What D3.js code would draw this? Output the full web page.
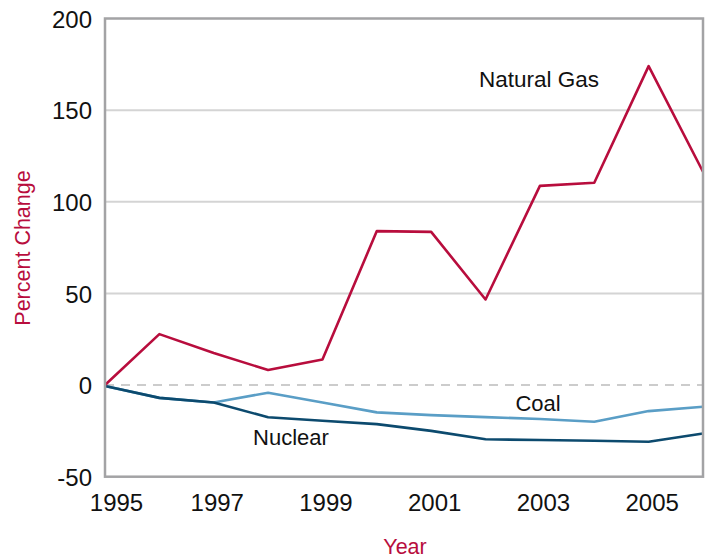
<!DOCTYPE html>
<html lang="en">
<head>
	<meta charset="UTF-8">
	<title>Percent Change</title>
	<script src="https://cdn.jsdelivr.net/npm/d3@7"></script>
	<style>
		body { margin: 0; background: #fff; }
		text { font-family: "Liberation Sans", Arial, sans-serif; }
	</style>
</head>
<body>
	<div id="container"></div>
	<script>
		var width = 710;
		var height = 559;

		// data
		var years = [1995, 1996, 1997, 1998, 1999, 2000, 2001, 2002, 2003, 2004, 2005, 2006];
		var naturalGas = [0, 27.8, 17.5, 8.2, 14, 84, 83.6, 46.7, 108.7, 110.4, 174, 116.4];
		var coal = [-0.5, -7, -9.5, -4.2, -9.5, -14.9, -16.4, -17.5, -18.5, -20, -14.2, -11.8];
		var nuclear = [-0.5, -7, -9.5, -17.6, -19.5, -21.3, -25, -29.6, -30, -30.4, -30.9, -26.4];
		var xTicks = [1995, 1997, 1999, 2001, 2003, 2005];
		var yTicks = [-50, 0, 50, 100, 150, 200];
		var gridValues = [50, 100, 150];

		var series = [
			{name: "Coal", values: coal, color: "#5a9ec6"},
			{name: "Nuclear", values: nuclear, color: "#0c4a6e"},
			{name: "Natural Gas", values: naturalGas, color: "#b80d3d"}
		];

		var svg = d3.select("#container").append("svg")
				.attr("width", width)
				.attr("height", height);

		var x = d3.scaleLinear()
				.domain([1995, 2006])
				.range([105, 703]);
		var y = d3.scaleLinear()
				.domain([-50, 200])
				.range([476.7, 18.5]);

		// grid lines
		svg.selectAll(".grid").data(gridValues)
			.enter().append("line")
				.attr("x1", x(1995))
				.attr("x2", x(2006))
				.attr("y1", d => y(d))
				.attr("y2", d => y(d))
				.attr("stroke", "#d4d4d4")
				.attr("stroke-width", 2);

		// dashed zero line
		svg.append("line")
				.attr("x1", x(1995))
				.attr("x2", x(2006))
				.attr("y1", y(0))
				.attr("y2", y(0))
				.attr("stroke", "#cccccc")
				.attr("stroke-width", 2)
				.attr("stroke-dasharray", "9,7");

		var line = d3.line()
				.x((d, i) => x(years[i]))
				.y(d => y(d));

		svg.selectAll(".series").data(series)
			.enter().append("path")
				.attr("d", d => line(d.values))
				.attr("fill", "none")
				.attr("stroke", d => d.color)
				.attr("stroke-width", 2.6)
				.attr("stroke-linejoin", "round");

		// frame
		svg.append("rect")
				.attr("x", x(1995))
				.attr("y", y(200))
				.attr("width", x(2006) - x(1995))
				.attr("height", y(-50) - y(200))
				.attr("fill", "none")
				.attr("stroke", "#a3a3a5")
				.attr("stroke-width", 2.5);

		// axes
		var xAxis = svg.append("g")
				.attr("transform", "translate(0," + y(-50) + ")")
				.call(d3.axisBottom(x).tickValues(xTicks).tickSize(0).tickFormat(d => String(d)));
		xAxis.select(".domain").remove();
		xAxis.selectAll("text")
				.attr("y", 34)
				.attr("dy", 0)
				.attr("dx", (d, i) => i == 0 ? 11 : 3)
				.attr("fill", "#111")
				.style("font-size", "24px")
				.style("font-family", "'Liberation Sans', Arial, sans-serif");

		var yAxis = svg.append("g")
				.attr("transform", "translate(92,0)")
				.call(d3.axisLeft(y).tickValues(yTicks).tickSize(0).tickPadding(0).tickFormat(d => String(d)));
		yAxis.select(".domain").remove();
		yAxis.selectAll("text")
				.attr("dy", "0.36em")
				.attr("fill", "#111")
				.style("font-size", "24px")
				.style("font-family", "'Liberation Sans', Arial, sans-serif");

		// series labels
		svg.append("text").text("Natural Gas")
				.attr("x", 539).attr("y", 87)
				.attr("text-anchor", "middle")
				.style("font-size", "22.5px")
				.attr("fill", "#111");
		svg.append("text").text("Coal")
				.attr("x", 538).attr("y", 411)
				.attr("text-anchor", "middle")
				.style("font-size", "22px")
				.attr("fill", "#111");
		svg.append("text").text("Nuclear")
				.attr("x", 291).attr("y", 445)
				.attr("text-anchor", "middle")
				.style("font-size", "22px")
				.attr("fill", "#111");

		// axis titles
		svg.append("text").text("Year")
				.attr("x", 405).attr("y", 554)
				.attr("text-anchor", "middle")
				.style("font-size", "21.5px")
				.attr("fill", "#b80d3d");
		svg.append("text").text("Percent Change")
				.attr("transform", "translate(30,248) rotate(-90)")
				.attr("text-anchor", "middle")
				.style("font-size", "21.5px")
				.attr("fill", "#b80d3d");
	</script>
</body>
</html>
